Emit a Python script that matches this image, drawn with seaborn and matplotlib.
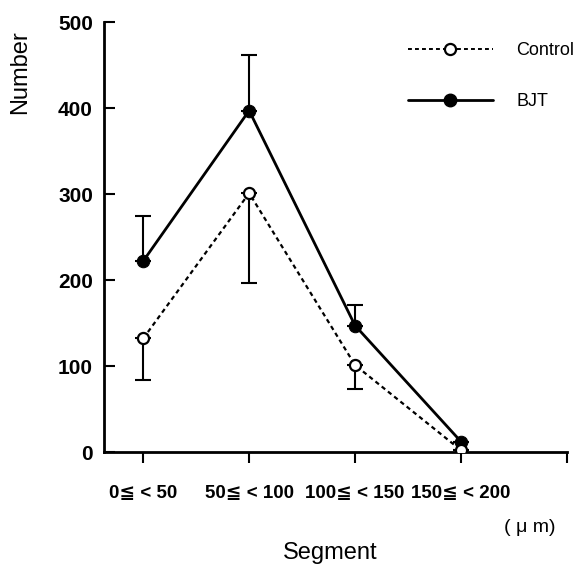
import numpy as np
import pandas as pd
import matplotlib
matplotlib.use("Agg")
import matplotlib.pyplot as plt
import seaborn as sns
from matplotlib.lines import Line2D

categories = ["0≦ < 50", "50≦ < 100", "100≦ < 150", "150≦ < 200"]
control_mean = [132, 301, 101, 2]
control_err_down = [48, 105, 28, 0]
bjt_mean = [222, 397, 147, 12]
bjt_err_up = [53, 65, 24, 0]
y_ticks = [0, 100, 200, 300, 400, 500]

sns.set_theme(style="white")
plt.rcParams['font.family'] = ['Liberation Sans', 'DejaVu Sans']
plt.rcParams['text.color'] = 'black'
plt.rcParams['xtick.color'] = 'black'
plt.rcParams['ytick.color'] = 'black'
plt.rcParams['axes.labelcolor'] = 'black'

pos = np.arange(1, len(categories) + 1)
df = pd.DataFrame({
    "pos": np.concatenate([pos, pos]),
    "value": control_mean + bjt_mean,
    "group": ["Control"] * 4 + ["BJT"] * 4,
})

fig = plt.figure(figsize=(5.85, 5.7), dpi=100)
ax = fig.add_axes([104/585, 1-452/570, (567-104)/585, (452-22)/570])

# error bars
ax.errorbar(pos, control_mean, yerr=[control_err_down, [0]*4], fmt="none",
            ecolor="black", elinewidth=1.5, capsize=6, capthick=1.5, zorder=2)
ax.errorbar(pos, bjt_mean, yerr=[[0]*4, bjt_err_up], fmt="none",
            ecolor="black", elinewidth=1.5, capsize=6, capthick=1.5, zorder=2)

sns.lineplot(data=df[df.group == "Control"], x="pos", y="value", ax=ax,
             color="black", linewidth=1.6, linestyle=(0, (2, 1.6)),
             marker="o", markersize=8, markerfacecolor="white",
             markeredgecolor="black", markeredgewidth=1.6, zorder=4,
             legend=False)
sns.lineplot(data=df[df.group == "BJT"], x="pos", y="value", ax=ax,
             color="black", linewidth=2.0, linestyle="-",
             marker="o", markersize=9, markerfacecolor="black",
             markeredgecolor="black", zorder=3, legend=False)

ax.set_xlim(0.63, 5.0)
ax.set_ylim(0, 500)
ax.set_xticks(list(pos) + [5])
ax.set_xticklabels(categories + [""], fontsize=13.5, fontweight="bold")
ax.set_yticks(y_ticks)
ax.set_yticklabels([str(t) for t in y_ticks], fontsize=15, fontweight="bold")
ax.tick_params(axis="y", direction="in", length=8, width=1.5, pad=8, left=True)
ax.tick_params(axis="x", direction="out", length=8, width=1.5, pad=16, bottom=True)
for s in ["top", "right"]:
    ax.spines[s].set_visible(False)
for s in ["left", "bottom"]:
    ax.spines[s].set_color("black")
    ax.spines[s].set_linewidth(2)
ax.set_xlabel("")
ax.set_ylabel("")

fig.text(20/585, 1-72/570, "Number", rotation=90, ha="center", va="center", fontsize=17)
fig.text(330/585, 1-553/570, "Segment", ha="center", va="center", fontsize=17)
fig.text(530/585, 1-527/570, "( μ m)", ha="center", va="center", fontsize=14)

handles = [
    Line2D([], [], color="black", linewidth=1.4, linestyle=(0, (2, 1.6)), marker="o",
           markersize=8, markerfacecolor="white", markeredgecolor="black", markeredgewidth=1.6),
    Line2D([], [], color="black", linewidth=2.0, marker="o", markersize=9,
           markerfacecolor="black"),
]
leg = fig.legend(handles, ["Control", "BJT"], loc="upper left",
                 bbox_to_anchor=(408/585, 1-42/570), frameon=False,
                 fontsize=13, handlelength=4.7, handletextpad=1.3,
                 labelspacing=1.9, borderpad=0, borderaxespad=0)

fig.savefig("out.png", dpi=100)
